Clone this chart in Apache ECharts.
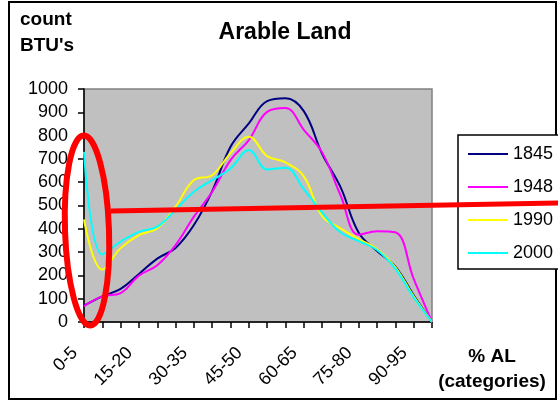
<!DOCTYPE html>
<html>
<head>
<meta charset="utf-8">
<script src="https://cdn.jsdelivr.net/npm/echarts@6/dist/echarts.min.js"></script>
<style>
  html, body { margin: 0; padding: 0; background: #fff; }
  #chart { width: 558px; height: 404px; }
</style>
</head>
<body>
<div id="chart"></div>
<script>
// Arable land categories (% AL, 5-point bins)
const categories = ['0-5', '5-10', '10-15', '15-20', '20-25', '25-30', '30-35', '35-40', '40-45', '45-50',
  '50-55', '55-60', '60-65', '65-70', '70-75', '75-80', '80-85', '85-90', '90-95', '95-100'];

// Count of BTU's per category, by year
const values1845 = [70, 110, 142, 206, 272, 318, 416, 562, 752, 852, 948, 960, 905, 722, 580, 383, 305, 238, 115, 0];
const values1948 = [68, 110, 124, 199, 244, 330, 452, 559, 695, 781, 902, 918, 825, 728, 545, 375, 390, 385, 185, 0];
const values1990 = [440, 225, 317, 373, 402, 495, 609, 630, 725, 795, 712, 685, 625, 455, 402, 356, 313, 235, 110, 0];
const values2000 = [730, 290, 345, 387, 409, 482, 559, 609, 659, 738, 655, 662, 570, 470, 385, 347, 309, 228, 105, 0];

// y-axis tick labels
const yTicks = [0, 100, 200, 300, 400, 500, 600, 700, 800, 900, 1000];

const yearNames = ['1845', '1948', '1990', '2000'];
const yearColors = ['#000080', '#ff00ff', '#ffff00', '#00ffff'];
const yearValues = [values1845, values1948, values1990, values2000];

const FONT = 'Liberation Sans, Arial, sans-serif';

const chart = echarts.init(document.getElementById('chart'), null, { renderer: 'canvas' });

chart.setOption({
  animation: false,
  backgroundColor: '#ffffff',
  grid: {
    left: 84, top: 89, right: 126, bottom: 82,
    show: true,
    backgroundColor: '#c0c0c0',
    borderColor: '#808080',
    borderWidth: 1.5,
    containLabel: false,
    outerBoundsMode: 'none'
  },
  xAxis: {
    type: 'category',
    data: categories,
    boundaryGap: false,
    axisLine: { show: true, lineStyle: { color: '#000', width: 1.5 } },
    axisTick: { show: true, inside: false, length: 6, interval: 0, lineStyle: { color: '#000', width: 1.5 } },
    axisLabel: {
      // one label every third category
      interval: (idx) => idx % 3 === 0,
      rotate: 45, margin: 19,
      padding: [0, 13, 0, 0],
      color: '#000', fontFamily: FONT, fontSize: 18,
      hideOverlap: false
    },
    splitLine: { show: false }
  },
  yAxis: {
    type: 'value',
    min: yTicks[0], max: yTicks[yTicks.length - 1], interval: yTicks[1] - yTicks[0],
    axisLine: { show: true, lineStyle: { color: '#000', width: 1.5 } },
    axisTick: { show: true, inside: false, length: 6, lineStyle: { color: '#000', width: 1.5 } },
    axisLabel: { margin: 16, color: '#000', fontFamily: FONT, fontSize: 18, formatter: (v) => String(v) },
    splitLine: { show: false }
  },
  legend: {
    orient: 'vertical',
    left: 458, top: 135,
    padding: [9, 40, 6, 10],
    borderColor: '#000', borderWidth: 1.5,
    backgroundColor: '#ffffff',
    itemWidth: 40, itemHeight: 2, itemGap: 13,
    icon: 'rect',
    textStyle: { color: '#000', fontFamily: FONT, fontSize: 18, lineHeight: 20 },
    data: yearNames
  },
  series: yearNames.map((name, i) => ({
    name: name,
    type: 'line',
    data: yearValues[i],
    smooth: 0.4,
    showSymbol: false,
    symbol: 'none',
    color: yearColors[i],
    lineStyle: { color: yearColors[i], width: 2 },
    itemStyle: { color: yearColors[i] },
    z: 3
  })),
  graphic: [
    // chart frame
    { type: 'rect', shape: { x: 9, y: 2, width: 547, height: 397 }, style: { fill: null, stroke: '#000', lineWidth: 2 }, z: 1, silent: true },
    // title
    { type: 'text', x: 285, y: 33, style: { text: 'Arable Land', font: 'bold 23px ' + FONT, fill: '#000', textAlign: 'center', textVerticalAlign: 'middle' }, z: 10 },
    // y-axis title
    { type: 'text', x: 20, y: 20, style: { text: 'count', font: 'bold 19px ' + FONT, fill: '#000', textAlign: 'left', textVerticalAlign: 'middle' }, z: 10 },
    { type: 'text', x: 20, y: 46, style: { text: "BTU's", font: 'bold 19px ' + FONT, fill: '#000', textAlign: 'left', textVerticalAlign: 'middle' }, z: 10 },
    // x-axis title
    { type: 'text', x: 492, y: 357, style: { text: '% AL', font: 'bold 19px ' + FONT, fill: '#000', textAlign: 'center', textVerticalAlign: 'middle' }, z: 10 },
    { type: 'text', x: 492, y: 382, style: { text: '(categories)', font: 'bold 19px ' + FONT, fill: '#000', textAlign: 'center', textVerticalAlign: 'middle' }, z: 10 },
    // red highlight around the lowest categories
    { type: 'ellipse', x: 87, y: 230.5, rotation: 0.035, shape: { cx: 0, cy: 0, rx: 22, ry: 95 }, style: { fill: null, stroke: '#ff0000', lineWidth: 6 }, z: 20, silent: true },
    { type: 'line', shape: { x1: 111, y1: 211, x2: 560, y2: 203 }, style: { stroke: '#ff0000', lineWidth: 5 }, z: 20, silent: true }
  ]
});
</script>
</body>
</html>
